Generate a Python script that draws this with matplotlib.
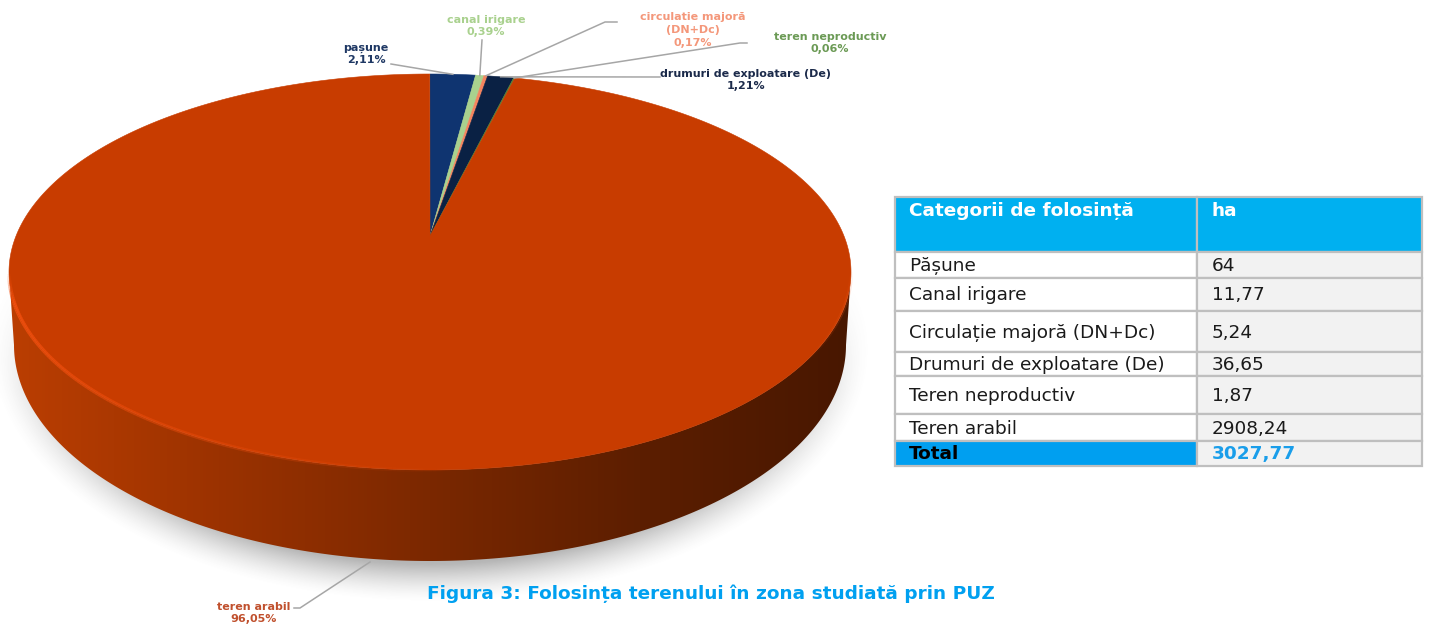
import numpy as np
import matplotlib
matplotlib.use("Agg")
import matplotlib.pyplot as plt
from matplotlib.colors import LinearSegmentedColormap
from matplotlib.patches import Polygon, Rectangle

# date
felii = ["pașune", "canal irigare", "circulatie majoră\n(DN+Dc)", "drumuri de exploatare (De)",
         "teren neproductiv", "teren arabil"]
procente = [2.11, 0.39, 0.17, 1.21, 0.06, 96.05]
culori = ["#0f3470", "#a9d18e", "#f4845f", "#0a2144", "#548235", "#c83c00"]
culori_text = ["#1f3864", "#a9d18e", "#f4977a", "#1b2a4a", "#6b9a55", "#c0502d"]
procente_text = ["2,11%", "0,39%", "0,17%", "1,21%", "0,06%", "96,05%"]

cap_tabel = ["Categorii de folosință", "ha"]
categorii = ["Pășune", "Canal irigare", "Circulație majoră (DN+Dc)", "Drumuri de exploatare (De)",
             "Teren neproductiv", "Teren arabil"]
hectare = ["64", "11,77", "5,24", "36,65", "1,87", "2908,24"]
total = ["Total", "3027,77"]
titlu = "Figura 3: Folosința terenului în zona studiată prin PUZ"

# geometrie pie (pixeli)
cx, cy, rx, ry = 430, 272, 421, 198
vx, vy = 430, 236
bx, by, brx, bry = 430, 345, 416, 216

# pozitii etichete: text x, text y, cot, capat linie
pos_text = [(366, 54), (486, 26), (693, 30), (746, 80), (830, 43), (254, 613)]
coate = [(391, 64), (482, 40), (605, 22), (660, 77), (740, 43), (300, 608)]
start_linie = [None, None, (617, 22), None, (747, 43), (294, 608)]

plt.rcParams["font.family"] = "DejaVu Sans"
fig = plt.figure(figsize=(14.29, 6.27), dpi=100)
ax = fig.add_axes([0, 0, 1, 1])
ax.set_xlim(0, 1429)
ax.set_ylim(627, 0)
ax.axis("off")


def rim(theta):
    # raza din varf (perspectiva) pana la elipsa de sus
    dx = np.sin(theta) * rx
    dy = -np.cos(theta) * ry
    ox, oy = vx - cx, vy - cy
    a = (dx / rx) ** 2 + (dy / ry) ** 2
    b = 2 * (ox * dx / rx ** 2 + oy * dy / ry ** 2)
    c = (ox / rx) ** 2 + (oy / ry) ** 2 - 1
    t = (-b + np.sqrt(b * b - 4 * a * c)) / (2 * a)
    return vx + t * dx, vy + t * dy


# umbra
gx, gy = np.meshgrid(np.linspace(0, 900, 451), np.linspace(200, 627, 214))
d = np.sqrt(((gx - bx) / (brx + 26)) ** 2 + ((gy - by) / (bry + 42)) ** 2)
umbra = np.zeros(gx.shape + (4,))
umbra[..., :3] = 0.42
umbra[..., 3] = 0.5 * np.clip((1 - d) / 0.15, 0, 1) ** 1.5 * np.clip((gy - 270) / 120, 0, 1)
ax.imshow(umbra, extent=(0, 900, 627, 200), aspect="auto", zorder=1, interpolation="bilinear")

# peretele lateral
tt = np.linspace(np.pi, 2 * np.pi, 300)
sus_x = cx + rx * np.cos(tt)
sus_y = cy - ry * np.sin(tt)
jos_x = bx + brx * np.cos(tt[::-1])
jos_y = by - bry * np.sin(tt[::-1])
perete = Polygon(np.column_stack([np.r_[sus_x, jos_x], np.r_[sus_y, jos_y]]), closed=True,
                 fc="none", ec="none", transform=ax.transData)
ax.add_patch(perete)
cm = LinearSegmentedColormap.from_list("perete", ["#bb3e02", "#9b3200", "#7b2800", "#5c1e00", "#481700"])
im = ax.imshow(np.linspace(0, 1, 256)[None, :], extent=(9, 851, 565, 260), aspect="auto",
               cmap=cm, zorder=2)
im.set_clip_path(perete)

# felii
frac = np.cumsum([0] + procente) / 100 * 2 * np.pi
for i in range(len(procente)):
    th = np.linspace(frac[i], frac[i + 1], max(3, int(procente[i] * 8)))
    pts = [rim(t) for t in th]
    ax.add_patch(Polygon([(vx, vy)] + pts, closed=True, fc=culori[i], ec=culori[i], lw=0.4, zorder=3))

# marginea luminoasa
xs = cx + rx * np.cos(tt)
ys = cy - ry * np.sin(tt)
for k in range(len(tt) - 1):
    f = k / (len(tt) - 1)
    alfa = np.clip(1 - f / 0.52, 0, 1) * 0.9 * np.clip(f / 0.05, 0, 1)
    alfa += 0.25 * np.clip((f - 0.85) / 0.1, 0, 1) * np.clip((1 - f) / 0.05, 0, 1)
    ax.plot(xs[k:k + 2], ys[k:k + 2], color="#f4500f", lw=2.8, alpha=alfa, zorder=4,
            solid_capstyle="butt")

# etichete si linii
for i, nume in enumerate(felii):
    mid = (frac[i] + frac[i + 1]) / 2
    if i == 5:
        capat = (370, 562)
    else:
        capat = rim(mid)
    lx = [coate[i][0], capat[0]]
    ly = [coate[i][1], capat[1]]
    if start_linie[i] is not None:
        lx.insert(0, start_linie[i][0])
        ly.insert(0, start_linie[i][1])
    ax.plot(lx, ly, color="#a6a6a6", lw=1.1, zorder=5)
    ax.text(pos_text[i][0], pos_text[i][1], nume + "\n" + procente_text[i], color=culori_text[i],
            fontsize=8.05, fontweight="bold", ha="center", va="center", linespacing=1.35, zorder=6)

# tabel
col_x = [895, 1197, 1422]
rand_y = [197, 252, 278, 311, 352, 376, 414, 441, 466]
gri = "#bfbfbf"
mar = 13.3


def celula(x0, x1, y0, y1, fc):
    ax.add_patch(Rectangle((x0, y0), x1 - x0, y1 - y0, fc=fc, ec=gri, lw=1.6, zorder=2))


celula(col_x[0], col_x[1], rand_y[0], rand_y[1], "#00b0f0")
celula(col_x[1], col_x[2], rand_y[0], rand_y[1], "#00b0f0")
ax.text(909, 211, cap_tabel[0], color="white", fontsize=mar, fontweight="bold", va="center")
ax.text(1212, 211, cap_tabel[1], color="white", fontsize=mar, fontweight="bold", va="center")
for i in range(len(categorii)):
    y0, y1 = rand_y[i + 1], rand_y[i + 2]
    celula(col_x[0], col_x[1], y0, y1, "white")
    celula(col_x[1], col_x[2], y0, y1, "#f2f2f2")
    ax.text(909, (y0 + y1) / 2 + 1, categorii[i], color="#1a1a1a", fontsize=mar, va="center")
    ax.text(1212, (y0 + y1) / 2 + 1, hectare[i], color="#1a1a1a", fontsize=mar, va="center")
celula(col_x[0], col_x[1], rand_y[7], rand_y[8], "#009ff0")
celula(col_x[1], col_x[2], rand_y[7], rand_y[8], "#f2f2f2")
ax.text(909, 454, total[0], color="black", fontsize=mar, fontweight="bold", va="center")
ax.text(1212, 454, total[1], color="#1a9eea", fontsize=mar, fontweight="bold", va="center")

ax.text(711, 594, titlu, color="#00a0f0", fontsize=mar, fontweight="bold", ha="center", va="center")

ax.set_xlim(0, 1429)
ax.set_ylim(627, 0)
fig.savefig("out.png", dpi=100)
